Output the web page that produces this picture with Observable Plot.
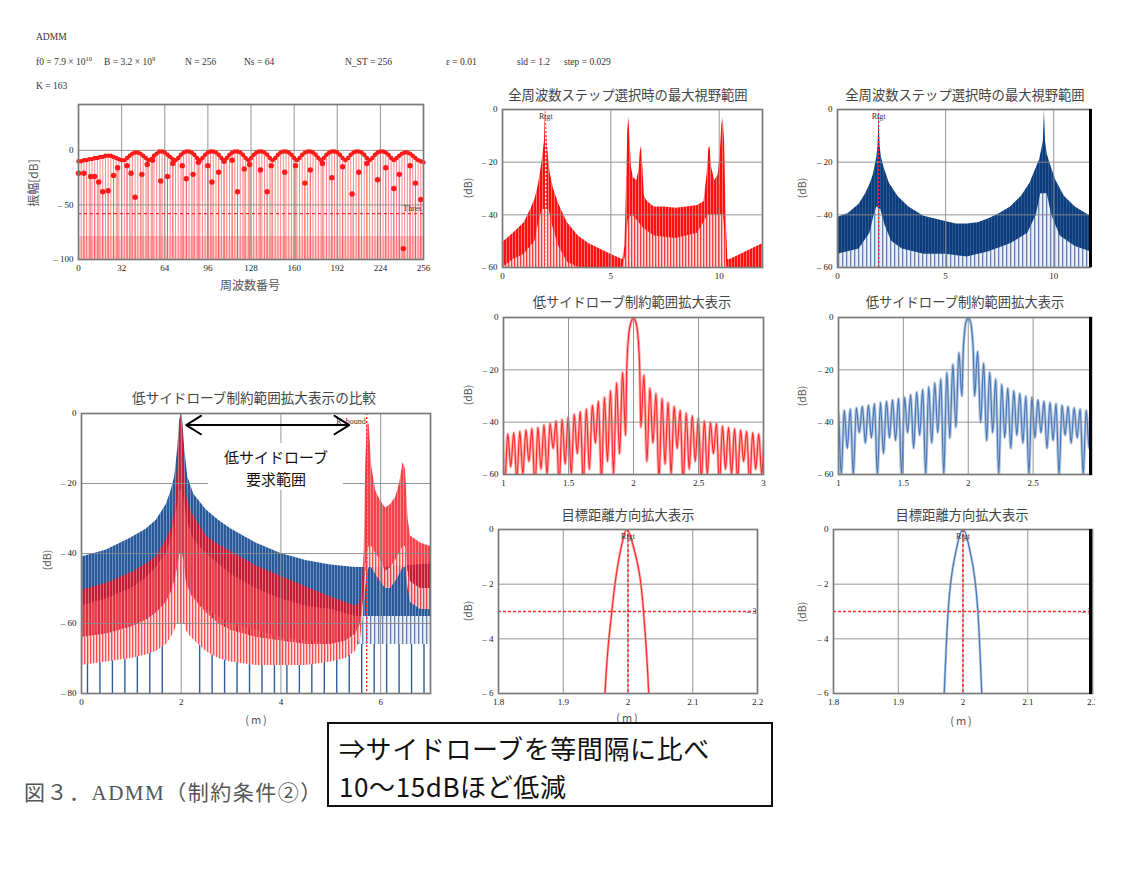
<!DOCTYPE html>
<html><head><meta charset="utf-8">
<script src="https://cdn.jsdelivr.net/npm/d3@7"></script>
<script src="https://cdn.jsdelivr.net/npm/@observablehq/plot@0.6"></script>
<style>
html,body{margin:0;padding:0;background:#fff;}
#root{position:relative;width:1132px;height:878px;overflow:hidden;background:#fff;}
.t{position:absolute;white-space:nowrap;line-height:1;}
.serif{font-family:"Liberation Serif","DejaVu Serif",serif;font-size:9.5px;color:#333;transform:translateY(-50%);}
.ttl{font-family:"Noto Sans CJK JP",sans-serif;font-size:13.3px;color:#444;transform:translate(-50%,-50%);}
.ax{font-family:"Noto Sans CJK JP",sans-serif;font-size:10.5px;color:#555;}
.rot{transform:translate(-50%,-50%) rotate(-90deg);}
.ctr{transform:translate(-50%,-50%);}
.big{font-family:"Noto Sans CJK JP",sans-serif;font-size:26px;color:#111;transform:translateY(-50%);letter-spacing:0.6px;}
sup{font-size:6.5px;vertical-align:4px;line-height:0;}
</style></head>
<body><div id="root">
<svg width="0" height="0" style="position:absolute;left:0;top:0"><defs>
<pattern id="pRed" width="3" height="8" patternUnits="userSpaceOnUse"><rect width="3" height="8" fill="#ff1010"/><rect x="2" width="1" height="8" fill="#ff6e6e"/></pattern>
<pattern id="pRedPale" width="3" height="8" patternUnits="userSpaceOnUse"><rect width="3" height="8" fill="#ffdcdc"/><rect x="1" width="1.3" height="8" fill="#ff3c3c"/></pattern>
<pattern id="pNavy" width="3" height="8" patternUnits="userSpaceOnUse"><rect width="3" height="8" fill="#0c3c7c"/><rect x="2" width="1" height="8" fill="#2c5894"/></pattern>
<pattern id="pBluePale" width="4" height="8" patternUnits="userSpaceOnUse"><rect width="4" height="8" fill="#e9eff7"/><rect x="1" width="1.3" height="8" fill="#5e84ba"/></pattern>
<pattern id="pBlueMid" width="3" height="8" patternUnits="userSpaceOnUse"><rect width="3" height="8" fill="#285896"/><rect x="2" width="1" height="8" fill="#6a90c4"/></pattern>
<pattern id="pRedMid" width="3" height="8" patternUnits="userSpaceOnUse"><rect width="3" height="8" fill="#f00c1c"/><rect x="2" width="1" height="8" fill="#ff6060"/></pattern>
</defs></svg>
</div>
<script>
// ================= DATA =================
// Top-left: amplitude per frequency number (stem plot)
const freqIndex = d3.range(0, 257, 2);
const ampTop = [
  -10,-10,-9,-9,-8,-8,-7,-7,-6,-6,-5,-5,-5,-6,-7,-8,
  -9,-9,-7,-5,-3,-2,-2,-3,-5,-7,-9,-8,-5,-3,-1,-1,
  -2,-4,-6,-8,-9,-7,-4,-2,-1,-1,-2,-4,-7,-9,-7,-4,
  -2,-1,-1,-2,-4,-7,-9,-7,-4,-2,-1,-1,-2,-4,-7,-9,
  -7,-4,-2,-1,-1,-2,-4,-7,-9,-7,-4,-2,-1,-1,-2,-4,
  -7,-9,-7,-4,-2,-1,-1,-2,-4,-7,-9,-7,-4,-2,-1,-1,
  -2,-4,-7,-9,-7,-4,-2,-1,-1,-2,-4,-7,-9,-7,-4,-2,
  -1,-1,-2,-4,-7,-9,-7,-5,-3,-2,-2,-3,-5,-7,-9,-10,
  -11];
const lowFreq = [0,4,9,12,15,18,22,26,29,36,39,42,47,51,55,61,66,70,77,80,85,89,96,99,104,108,114,118,123,127,135,140,143,153,161,168,172,181,188,196,203,208,214,222,228,234,238,241,246,250,254];
const lowAmp  = [-21,-21,-24,-24,-29,-38,-37,-23,-16,-14,-21,-43,-22,-13,-9,-28,-24,-12,-14,-26,-22,-11,-14,-29,-20,-10,-9,-38,-17,-13,-18,-38,-14,-20,-14,-30,-18,-12,-25,-15,-40,-20,-12,-27,-16,-35,-22,-90,-14,-30,-45];
const thresDb = -58;
const freqTicks = [0,32,64,96,128,160,192,224,256];
const ampTicks = [0,-50,-100];

// Top-middle: full view, red
const fullRedX = [0,0.5,1.0,1.3,1.5,1.65,1.75,1.82,1.88,1.94,1.97,1.99,2.01,2.03,2.06,2.12,2.2,2.35,2.6,3.0,3.5,4.0,4.5,5.0,5.4,5.55,5.65,5.72,5.78,5.83,5.88,5.95,6.05,6.2,6.3,6.36,6.42,6.48,6.55,6.7,7.0,7.5,8.0,8.5,9.0,9.3,9.45,9.52,9.58,9.65,9.8,9.95,10.05,10.12,10.18,10.25,10.32,10.4,10.5,11.0,11.5,12.0];
const fullRedTop = [-50.5,-47,-43,-38,-34,-29,-24,-20,-16,-12,-2,0,0,-2,-12,-18,-24,-30,-36,-43,-48,-51,-53,-55,-56.5,-57,-52,-30,-8,-3,-10,-22,-26,-27,-23,-16,-14,-22,-33,-35,-37,-37,-37.5,-37,-36.5,-35,-24,-15,-14,-22,-27,-25,-17,-6,-3,-12,-40,-57,-57,-55,-53,-51];
const fullRedLowX = [0,0.5,1.0,1.5,1.7,1.85,2.0,2.15,2.3,2.6,3.0,3.5,5.55,5.7,5.8,6.0,6.5,7.0,8.0,9.0,9.5,10.2,10.3,10.35,12.0];
const fullRedLowY = [-60,-57,-55,-50,-42,-38,-38,-38,-44,-52,-58,-60,-60,-55,-42,-40,-45,-48,-49,-47,-40,-40,-50,-60,-60];

// Top-right: full view, blue
const fullBlueX = [0,0.5,1.0,1.3,1.5,1.65,1.75,1.82,1.87,1.9,1.92,1.94,1.97,2.03,2.15,2.4,2.8,3.3,4.0,5.0,5.5,6.0,6.5,7.0,7.5,8.0,8.5,8.9,9.15,9.35,9.45,9.52,9.55,9.57,9.59,9.62,9.7,9.85,10.1,10.5,11.0,11.7];
const fullBlueTop = [-41,-39.5,-36,-32,-28.5,-25,-21,-18,-14,-8,0,-8,-14,-18,-22,-28,-33,-37,-40.5,-42.5,-43.5,-43.5,-43,-41.5,-39.5,-37,-33,-28,-23,-19,-15,-12,-5,0,-5,-12,-17,-21,-27,-33,-37,-40.5];
const fullBlueLowX = [0,1.0,1.5,1.7,1.82,2.0,2.2,2.5,3.0,4.0,5.0,6.0,7.0,8.0,8.8,9.2,9.4,9.7,9.9,10.3,11.0,11.7];
const fullBlueLowY = [-55,-53,-47,-40,-37,-38,-44,-50,-53,-55,-55,-56,-54,-51,-47,-40,-32,-32,-40,-48,-52,-54];

const fullYTicks = [0,-20,-40,-60];
const rtgtRed = 2.0, rtgtBlue = 1.9, rBound = 5.72, halfPower = -3;

// Sidelobe structure (zoomed views)
const lobeSpacing = 0.0465;
const redMainX = [1.948,1.9645,1.975,1.99,1.998,2.008,2.024,2.032,2.048];
const redMainY = [-20,-6,-3,-0.6,0,-0.6,-3,-6,-20];
const redLeftPeaks  = [-21,-25,-28,-30.5,-32,-33.5,-35,-36,-37,-38,-39,-39.5,-40.5,-41,-42,-42.5,-43,-43.5,-44,-44.5,-45];
const redLeftNulls  = [-45,-52,-60,-55,-62,-48,-58,-64,-52,-60,-56,-64,-50,-60,-58,-65,-55,-60,-62,-57,-64,-60];
const redRightPeaks = [-22,-27,-29,-31,-32.5,-34,-35.5,-36.5,-37.5,-38.5,-39.5,-40,-40.5,-41.5,-42,-42.5,-43,-43.5,-44,-44.5,-45];
const redRightNulls = [-42,-55,-48,-62,-56,-60,-50,-64,-58,-55,-62,-60,-52,-64,-58,-60,-62,-55,-64,-58,-60,-62];
const redAnchors = {leftPeak:1.916, leftNull:1.9395, rightNull:2.0565, rightPeak:2.08};

const blueMainX = [1.962,1.971,1.977,1.99,2.0,2.01,2.023,2.029,2.038];
const blueMainY = [-12,-6,-3,-0.7,0,-0.7,-3,-6,-12];
const blueLeftPeaks  = [-13.5,-18,-21,-23.5,-25,-26.5,-27.5,-28.5,-29.5,-30.5,-31,-31.5,-32,-32.5,-33,-33.5,-34,-34.5,-35,-35.5,-36];
const blueLeftNulls  = [-30,-42,-46,-60,-44,-48,-60,-45,-50,-44,-60,-47,-46,-52,-60,-46,-48,-44,-60,-50,-60,-46];
const blueRightPeaks = [-13,-17.5,-21,-23.5,-25.5,-27,-28,-29,-30,-30.5,-31.5,-32,-32.5,-33,-33.5,-34,-34.5,-35,-35.5,-36];
const blueRightNulls = [-30,-40,-47,-44,-60,-46,-50,-45,-48,-60,-46,-44,-50,-47,-60,-45,-48,-46,-60,-50,-47];
const blueAnchors = {leftPeak:1.928, leftNull:1.951, rightNull:2.049, rightPeak:2.072};

// Bottom-left comparison
const bigBlueX = [0,0.5,1.0,1.3,1.5,1.7,1.8,1.87,1.93,1.97,2.0,2.03,2.07,2.13,2.25,2.5,2.75,3.0,3.5,4.0,4.5,5.0,5.5,6.0,6.5,7.0];
const bigBlueTop = [-41,-39,-35.5,-33,-30.5,-26,-22,-18,-10,-2,0,-2,-10,-18,-23,-27.5,-30.5,-33,-37,-40,-42,-43.3,-44,-44,-43.5,-43];
const bigBlueLow = [-55,-53,-50,-47,-44,-40,-36,-31,-26,-22,-22,-22,-26,-31,-36,-40,-43,-46,-50,-53,-55,-56,-58,-58,-58,-58];
const bigBlueFloor = [-64,-63,-62,-60,-58,-55,-52,-50,-48,-46,-46,-46,-48,-50,-52,-56,-58,-60,-62,-64,-65,-66,-66,-66,-66,-66];
const bigBlueStemX = [0.12,0.37,0.62,0.87,1.12,1.37,1.62,2.37,2.62,2.87,3.12,3.37,3.62,3.87,4.12,4.37,4.62,4.87,5.12,5.37,5.62,5.87,6.12,6.37,6.62,6.87];
const bigRedX = [0,0.5,1.0,1.3,1.5,1.7,1.8,1.87,1.93,1.97,2.0,2.03,2.07,2.1,2.2,2.5,2.75,3.0,3.5,4.0,4.5,5.0,5.3,5.5,5.6,5.64,5.67,5.7,5.73,5.77,5.82,5.9,6.0,6.1,6.2,6.3,6.38,6.45,6.5,6.55,6.6,6.8,7.0];
const bigRedTop = [-50.5,-48.5,-45.5,-43,-41,-36,-33,-28,-15,-3,0,-3,-15,-23,-28,-35,-37.5,-39.5,-43.5,-46.5,-49.5,-52.4,-54,-55,-54,-47,-40,-15,-3,-3,-15,-22,-25,-27,-26,-24,-20,-14,-16,-30,-35,-37,-38];
const bigRedLow = [-64,-63,-61,-59,-57,-54,-51,-48,-44,-40,-40,-40,-44,-48,-52,-57,-60,-62,-64,-65,-66,-66,-65,-63,-60,-55,-50,-45,-40,-38,-38,-40,-42,-45,-44,-42,-40,-38,-38,-45,-48,-50,-50];
const bigRedFloor = [-72,-71,-70,-69,-68,-66,-64,-62,-60,-60,-60,-60,-60,-62,-64,-68,-70,-71,-72,-72,-72,-71,-70,-68,-64,-60,-56,-50,-46,-44,-44,-46,-48,-50,-50,-48,-46,-44,-44,-50,-54,-56,-56];
const bigArrow = [{from: 2.1, to: 5.37, at: -3.3}];

// ================= BUILD =================
const root = document.getElementById("root");
const dbFmt = d => d === 0 ? "0" : "\u2013 " + Math.abs(d);
const red = "#ff1a1a";
const markerRed = "#ff2e2e";

function lobeLine(a, lp, ln, mx, my, rn, rp) {
  const pts = [];
  lp.forEach((v,k) => pts.push({x: a.leftPeak - k*lobeSpacing, y: v}));
  ln.forEach((v,j) => pts.push({x: a.leftNull - j*lobeSpacing, y: v}));
  mx.forEach((x,i) => pts.push({x, y: my[i]}));
  rn.forEach((v,j) => pts.push({x: a.rightNull + j*lobeSpacing, y: v}));
  rp.forEach((v,k) => pts.push({x: a.rightPeak + k*lobeSpacing, y: v}));
  return pts.sort((p,q) => p.x - q.x);
}
const redLobes = lobeLine(redAnchors, redLeftPeaks, redLeftNulls, redMainX, redMainY, redRightNulls, redRightPeaks);
const blueLobes = lobeLine(blueAnchors, blueLeftPeaks, blueLeftNulls, blueMainX, blueMainY, blueRightNulls, blueRightPeaks);

function panel(c) {
  const ml = 40, mr = c.mr ?? 10, mt = 8, mb = 20;
  const w = c.px[1] - c.px[0], h = c.py[1] - c.py[0];
  const gridStyle = {stroke: "#8a8a8a", strokeOpacity: 0.9, strokeWidth: 1};
  const chart = Plot.plot({
    width: w + ml + mr, height: h + mt + mb,
    marginLeft: ml, marginRight: mr, marginTop: mt, marginBottom: mb,
    style: {fontFamily: "'Liberation Serif', serif", fontSize: "9px", color: "#222", background: "transparent", overflow: c.overflow ?? "visible"},
    x: {domain: c.xd, ticks: c.xt, tickSize: 0, tickPadding: 5, tickFormat: d => String(d), label: null},
    y: {domain: c.yd, ticks: c.yt, tickSize: 0, tickPadding: 5, tickFormat: dbFmt, label: null},
    marks: [
      ...c.marks,
      Plot.gridX(c.xg, gridStyle),
      Plot.gridY(c.yg, gridStyle),
      ...(c.over ?? []),
      Plot.frame({stroke: "#7a7a7a", strokeWidth: 1.7})
    ]
  });
  chart.style.position = "absolute";
  chart.style.left = (c.px[0] - ml) + "px";
  chart.style.top = (c.py[0] - mt) + "px";
  root.appendChild(chart);
}

// ---- Panel 1: top-left stem plot
const envTbl = freqIndex.map((f,i) => ({f, db: ampTop[i]}));
const lowTbl = lowFreq.map((f,i) => ({f, db: lowAmp[i]}));
const ampDomain = [-100, 42];
panel({
  px: [78, 423], py: [104, 259], xd: [0, 256], yd: ampDomain,
  xt: freqTicks, yt: ampTicks, xg: freqTicks.slice(1, -1), yg: [0, -50],
  marks: [
    Plot.areaY(envTbl, {x: "f", y1: ampDomain[0], y2: -79, fill: "#ffc0c0", fillOpacity: 0.8}),
    Plot.ruleX(envTbl, {x: "f", y1: ampDomain[0], y2: "db", stroke: "#ff2a2a", strokeOpacity: 0.55, strokeWidth: 1}),
    Plot.ruleX(lowTbl, {x: "f", y1: ampDomain[0], y2: "db", stroke: "#ff2a2a", strokeOpacity: 0.5, strokeWidth: 1})
  ],
  over: [
    Plot.ruleY([thresDb], {stroke: markerRed, strokeDasharray: "3,3", strokeWidth: 1.2}),
    Plot.text([thresDb], {x: 256, y: d => d, text: () => "Thres", textAnchor: "end", dx: -2, dy: -5, fontSize: 8, fill: "#333"}),
    Plot.line(envTbl, {x: "f", y: "db", stroke: red, strokeWidth: 2.4, curve: "monotone-x"}),
    Plot.dot(envTbl, {x: "f", y: "db", r: 2.2, fill: red, stroke: "none"}),
    Plot.dot(lowTbl, {x: "f", y: "db", r: 2.7, fill: red, stroke: "none"})
  ]
});

// ---- Panel 2: top-middle red full view
const fullRedTbl = fullRedX.map((x,i) => ({x, y: fullRedTop[i]}));
const fullRedLowTbl = fullRedLowX.map((x,i) => ({x, y: fullRedLowY[i]}));
const fullYDomain = [-60, 0];
panel({
  px: [502, 762], py: [109, 267], xd: [0, 12], yd: fullYDomain,
  xt: [0, 5, 10], yt: fullYTicks, xg: [5, 10], yg: [-20, -40],
  marks: [
    Plot.areaY(fullRedTbl, {x: "x", y1: fullYDomain[0], y2: "y", fill: "url(#pRed)", clip: true}),
    Plot.areaY(fullRedLowTbl, {x: "x", y1: fullYDomain[0], y2: "y", fill: "url(#pRedPale)", clip: true}),
    Plot.ruleX([rtgtRed], {stroke: "#ffffff", strokeDasharray: "2,2", strokeWidth: 1.4})
  ],
  over: [
    Plot.text([rtgtRed], {x: d => d, y: 0, text: () => "Rtgt", dy: 7, fontSize: 8, fill: "#333"})
  ]
});

// ---- Panel 3: top-right blue full view
const fullBlueTbl = fullBlueX.map((x,i) => ({x, y: fullBlueTop[i]}));
const fullBlueLowTbl = fullBlueLowX.map((x,i) => ({x, y: fullBlueLowY[i]}));
panel({
  px: [837, 1090], py: [109, 267], xd: [0, 11.7], yd: fullYDomain, mr: 3, overflow: "hidden",
  xt: [0, 5, 10], yt: fullYTicks, xg: [5, 10], yg: [-20, -40],
  marks: [
    Plot.areaY(fullBlueTbl, {x: "x", y1: fullYDomain[0], y2: "y", fill: "url(#pNavy)", clip: true}),
    Plot.areaY(fullBlueLowTbl, {x: "x", y1: fullYDomain[0], y2: "y", fill: "url(#pBluePale)", clip: true}),
    Plot.ruleX([rtgtBlue], {stroke: markerRed, strokeDasharray: "2,2", strokeWidth: 1.4})
  ],
  over: [
    Plot.text([rtgtBlue], {x: d => d, y: 0, text: () => "Rtgt", dy: 7, fontSize: 8, fill: "#333"})
  ]
});

// ---- Panel 4: mid-middle red zoom
panel({
  px: [503, 763], py: [317, 474], xd: [1, 3], yd: fullYDomain,
  xt: [1, 1.5, 2, 2.5, 3], yt: fullYTicks, xg: [1.5, 2, 2.5], yg: [-20, -40],
  marks: [
    Plot.line(redLobes, {x: "x", y: "y", stroke: "#ffb0b0", strokeWidth: 3, curve: "monotone-x", clip: true}),
    Plot.line(redLobes, {x: "x", y: "y", stroke: "#ff2b2b", strokeWidth: 1.2, curve: "monotone-x", clip: true})
  ]
});

// ---- Panel 5: mid-right blue zoom
panel({
  px: [838, 1091], py: [317, 474], xd: [1, 2.95], yd: fullYDomain, mr: 3, overflow: "hidden",
  xt: [1, 1.5, 2, 2.5], yt: fullYTicks, xg: [1.5, 2, 2.5], yg: [-20, -40],
  marks: [
    Plot.line(blueLobes, {x: "x", y: "y", stroke: "#b9cbe3", strokeWidth: 3, curve: "monotone-x", clip: true}),
    Plot.line(blueLobes, {x: "x", y: "y", stroke: "#4a78b5", strokeWidth: 1.2, curve: "monotone-x", clip: true})
  ]
});

// ---- Panel 6 / 7: main lobe zoom
const mainYDomain = [-6, 0];
const mainYTicks = [0, -2, -4, -6];
function mainPanel(px, lobes, color, light, mr, overflow) {
  panel({
    px, py: [529, 693], xd: [1.8, 2.2], yd: mainYDomain, mr, overflow,
    xt: [1.8, 1.9, 2, 2.1, 2.2], yt: mainYTicks, xg: [1.9, 2, 2.1], yg: [-2, -4],
    marks: [
      Plot.line(lobes, {x: "x", y: "y", stroke: light, strokeWidth: 2.6, curve: "monotone-x", clip: true}),
      Plot.line(lobes, {x: "x", y: "y", stroke: color, strokeWidth: 1.2, curve: "monotone-x", clip: true})
    ],
    over: [
      Plot.ruleY([halfPower], {stroke: markerRed, strokeDasharray: "3,2", strokeWidth: 1.5}),
      Plot.ruleX([rtgtRed], {stroke: markerRed, strokeDasharray: "3,2", strokeWidth: 1.5}),
      Plot.text([rtgtRed], {x: d => d, y: 0, text: () => "Rtgt", dy: 7, fontSize: 8, fill: "#333"}),
      Plot.text([halfPower], {x: 2.2, y: d => d, text: () => "\u2013 3", textAnchor: "end", dx: -1, fontSize: 8, fill: "#333"})
    ]
  });
}
mainPanel([498, 757], redLobes, "#ff2b2b", "#ffb0b0", 10, "visible");
mainPanel([833, 1092], blueLobes, "#4a78b5", "#b9cbe3", 3, "hidden");

// ---- Panel 8: bottom-left comparison
const bigBlueTbl = bigBlueX.map((x,i) => ({x, top: bigBlueTop[i], low: bigBlueLow[i], floor: bigBlueFloor[i]}));
const bigRedTbl = bigRedX.map((x,i) => ({x, top: bigRedTop[i], low: bigRedLow[i], floor: bigRedFloor[i]}));
const bigYDomain = [-80, 0];
panel({
  px: [81, 430], py: [413, 693], xd: [0, 7], yd: bigYDomain,
  xt: [0, 2, 4, 6], yt: [0, -20, -40, -60, -80], xg: [2, 4, 6], yg: [-20, -40, -60],
  marks: [
    Plot.ruleX(bigBlueStemX, {x: d => d, y1: bigYDomain[0], y2: -50, stroke: "#2d5c9a", strokeWidth: 1.4}),
    Plot.areaY(bigBlueTbl, {x: "x", y1: "floor", y2: "low", fill: "url(#pBluePale)", clip: true}),
    Plot.areaY(bigBlueTbl, {x: "x", y1: "low", y2: "top", fill: "url(#pBlueMid)", clip: true}),
    Plot.areaY(bigRedTbl, {x: "x", y1: "floor", y2: "low", fill: "url(#pRedPale)", fillOpacity: 0.9, clip: true}),
    Plot.areaY(bigRedTbl, {x: "x", y1: "low", y2: "top", fill: "url(#pRedMid)", fillOpacity: 0.78, clip: true}),
    Plot.ruleX([rBound], {stroke: markerRed, strokeDasharray: "2,2", strokeWidth: 1.4})
  ],
  over: [
    Plot.text([rBound], {x: d => d, y: 0, text: () => "R_bound", textAnchor: "end", dx: -1, dy: 8, fontSize: 8, fill: "#333"}),
    Plot.arrow(bigArrow, {x1: d => (d.from + d.to) / 2, x2: "from", y1: "at", y2: "at", stroke: "#000", strokeWidth: 2, headLength: 13, headAngle: 64}),
    Plot.arrow(bigArrow, {x1: d => (d.from + d.to) / 2, x2: "to", y1: "at", y2: "at", stroke: "#000", strokeWidth: 2, headLength: 13, headAngle: 64})
  ]
});

// ================= TEXT =================
function txt(html, x, y, cls, extra) {
  const d = document.createElement("div");
  d.className = "t " + cls;
  d.innerHTML = html;
  d.style.left = x + "px"; d.style.top = y + "px";
  if (extra) Object.assign(d.style, extra);
  root.appendChild(d);
  return d;
}
txt("ADMM", 36, 38, "serif");
txt("f0 = 7.9 \u00d7 10<sup>10</sup>", 36, 63, "serif");
txt("B = 3.2 \u00d7 10<sup>9</sup>", 104, 63, "serif");
txt("N = 256", 185, 63, "serif");
txt("Ns = 64", 244, 63, "serif");
txt("N_ST = 256", 345, 63, "serif");
txt("\u03b5 = 0.01", 446, 63, "serif");
txt("sld = 1.2", 517, 63, "serif");
txt("step = 0.029", 564, 63, "serif");
txt("K = 163", 36, 87, "serif");

txt("全周波数ステップ選択時の最大視野範囲", 628, 95, "ttl");
txt("全周波数ステップ選択時の最大視野範囲", 965, 95, "ttl");
txt("低サイドローブ制約範囲拡大表示", 632, 302, "ttl");
txt("低サイドローブ制約範囲拡大表示", 965, 302, "ttl");
txt("目標距離方向拡大表示", 628, 515, "ttl");
txt("目標距離方向拡大表示", 962, 515, "ttl");
txt("低サイドローブ制約範囲拡大表示の比較", 254, 398, "ttl", {fontSize: "13.6px"});

txt("振幅[dB]", 33, 183, "ax rot", {fontSize: "12px"});
txt("周波数番号", 250, 285, "ax ctr", {fontSize: "12px"});
[[468,188],[802,188],[468,395],[802,396],[468,611],[802,612],[47,560]].forEach(([x,y]) => txt("(dB)", x, y, "ax rot"));
[[257,719],[628,717],[962,720]].forEach(([x,y]) => txt("(m)", x, y, "ax ctr", {fontSize: "11px", letterSpacing: "2px"}));

// right-edge black bars
[[109,158],[317,158],[529,165]].forEach(([t,h]) => txt("", 1089, t, "", {width: "3px", height: h + "px", background: "#000"}));

// annotation box on comparison panel
txt("", 208, 443, "", {width: "135px", height: "47px", background: "#fff"});
txt("低サイドローブ", 276, 456, "ctr", {fontFamily: "'Noto Sans CJK JP',sans-serif", fontSize: "15px", color: "#111"});
txt("要求範囲", 276, 478, "ctr", {fontFamily: "'Noto Sans CJK JP',sans-serif", fontSize: "15px", color: "#111"});

// caption and comment box
txt("図３．ADMM（制約条件②）", 24, 793, "", {fontFamily: "'Liberation Serif','Noto Sans CJK JP',serif", fontSize: "21px", color: "#555", letterSpacing: "1.5px", transform: "translateY(-50%)"});
txt("", 327, 722, "", {width: "442px", height: "81px", border: "2px solid #111", background: "#fff"});
txt("⇒サイドローブを等間隔に比べ", 339, 748, "big");
txt("10〜15dBほど低減", 339, 786, "big");
</script></body></html>
